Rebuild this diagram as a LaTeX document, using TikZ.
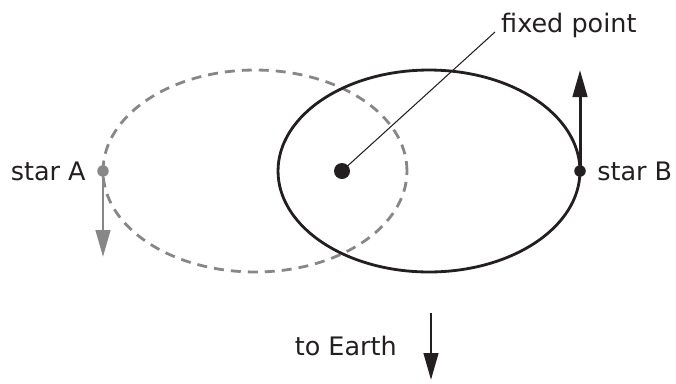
\documentclass[tikz,border=0pt]{standalone}
\usepackage{fontspec}
\setmainfont{DejaVu Sans}
\usepackage{tikz}
\usetikzlibrary{arrows.meta, positioning}
\definecolor{ink}{RGB}{35,31,32}
\definecolor{grey}{RGB}{135,135,135}
\tikzset{
    lbl/.style={font=\fontsize{14.5}{17}\selectfont, text=ink},
    fixdot/.style={circle, fill=ink, inner sep=0pt, minimum size=0.32cm},
    stardot/.style={circle, fill=ink, inner sep=0pt, minimum size=0.23cm},
    orbit/.style={draw=ink, line width=1.6pt},
    dashorbit/.style={draw=grey, line width=1.6pt, dash pattern=on 0.2cm off 0.14cm},
    vel/.style={line width=1.7pt, -{Triangle[length=0.54cm, width=0.29cm]}}
}

\begin{document}
\begin{tikzpicture}[x=0.02cm, y=-0.02cm]
    \useasboundingbox (0,0) rectangle (676,383);
    % orbits
    \draw [dashorbit] (255,171) ellipse [x radius=3.04cm, y radius=2.02cm];
    \draw [orbit] (429,171) ellipse [x radius=3.02cm, y radius=2.02cm];

    \node (fp) [fixdot] at (342,171) {};
    \node (starA) [stardot, fill=grey] at (103,171) {};
    \node (starB) [stardot] at (580,171) {};

    \node (lblA) [lbl, left=0.1cm of starA] {star A};
    \node (lblB) [lbl, right=0.1cm of starB] {star B};
    \node (lblfp) [lbl, anchor=base west] at (495,32) {fixed point};
    \node (lblE) [lbl, anchor=base east] at (403,355) {to Earth};

    \coordinate (tipA) at (103,257);
    \coordinate (tipB) at (580,70);
    \coordinate (eTop) at (431,313);
    \coordinate (eTip) at (431,380);

    \draw [ink, line width=0.6pt] (fp.center) -- (lblfp.base west);
    \draw [vel, grey] (starA.center) -- (tipA);
    \draw [vel, ink] (starB.center) -- (tipB);
    \draw [vel, ink] (eTop) -- (eTip);
\end{tikzpicture}
\end{document}
